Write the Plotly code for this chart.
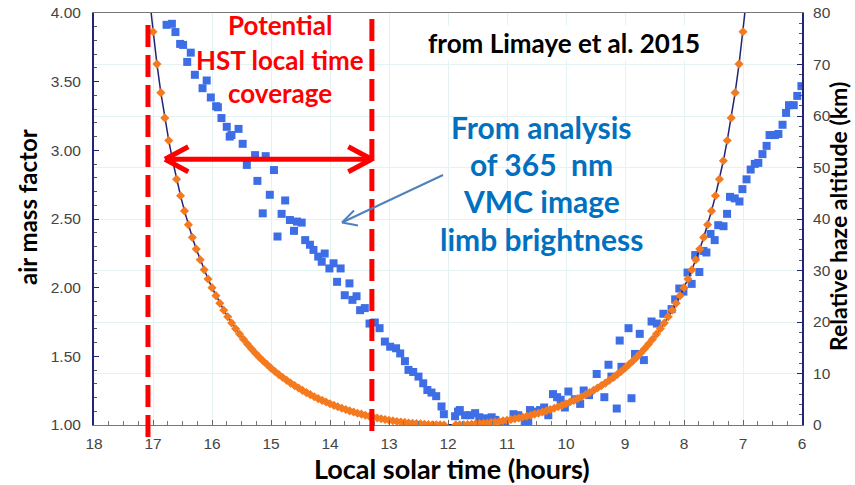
import plotly.graph_objects as go

# ---------------- data ----------------
# Air mass factor (orange diamonds, left axis) vs local solar time (hours)
airmass_time = [
    17.000, 16.933, 16.867, 16.800, 16.733, 16.667, 16.600, 16.533, 16.467, 16.400, 16.333, 16.267, 16.200, 16.133, 16.067,
    16.000, 15.933, 15.867, 15.800, 15.733, 15.667, 15.600, 15.533, 15.467, 15.400, 15.333, 15.267, 15.200, 15.133, 15.067,
    15.000, 14.933, 14.867, 14.800, 14.733, 14.667, 14.600, 14.533, 14.467, 14.400, 14.333, 14.267, 14.200, 14.133, 14.067,
    14.000, 13.933, 13.867, 13.800, 13.733, 13.667, 13.600, 13.533, 13.467, 13.400, 13.333, 13.267, 13.200, 13.133, 13.067,
    13.000, 12.933, 12.867, 12.800, 12.733, 12.667, 12.600, 12.533, 12.467, 12.400, 12.333, 12.267, 12.200, 12.133, 12.067,
    12.000, 11.933, 11.867, 11.800, 11.733, 11.667, 11.600, 11.533, 11.467, 11.400, 11.333, 11.267, 11.200, 11.133, 11.067,
    11.000, 10.933, 10.867, 10.800, 10.733, 10.667, 10.600, 10.533, 10.467, 10.400, 10.333, 10.267, 10.200, 10.133, 10.067,
    10.000, 9.933, 9.867, 9.800, 9.733, 9.667, 9.600, 9.533, 9.467, 9.400, 9.333, 9.267, 9.200, 9.133, 9.067,
    9.000, 8.933, 8.867, 8.800, 8.733, 8.667, 8.600, 8.533, 8.467, 8.400, 8.333, 8.267, 8.200, 8.133, 8.067,
    8.000, 7.933, 7.867, 7.800, 7.733, 7.667, 7.600, 7.533, 7.467, 7.400, 7.333, 7.267, 7.200, 7.133, 7.067,
    7.000,
]
airmass = [
    3.864, 3.628, 3.420, 3.236, 3.072, 2.924, 2.790, 2.669, 2.559, 2.459, 2.366, 2.281, 2.203, 2.130, 2.063,
    2.000, 1.942, 1.887, 1.836, 1.788, 1.743, 1.701, 1.662, 1.624, 1.589, 1.556, 1.524, 1.494, 1.466, 1.440,
    1.414, 1.390, 1.367, 1.346, 1.325, 1.305, 1.287, 1.269, 1.252, 1.236, 1.221, 1.206, 1.192, 1.179, 1.167,
    1.155, 1.143, 1.133, 1.122, 1.113, 1.103, 1.095, 1.086, 1.079, 1.071, 1.064, 1.058, 1.051, 1.046, 1.040,
    1.035, 1.031, 1.026, 1.022, 1.019, 1.015, 1.012, 1.010, 1.008, 1.006, 1.004, 1.002, 1.001, 1.001, 1.000,
    1.000, 1.000, 1.001, 1.001, 1.002, 1.004, 1.006, 1.008, 1.010, 1.012, 1.015, 1.019, 1.022, 1.026, 1.031,
    1.035, 1.040, 1.046, 1.051, 1.058, 1.064, 1.071, 1.079, 1.086, 1.095, 1.103, 1.113, 1.122, 1.133, 1.143,
    1.155, 1.167, 1.179, 1.192, 1.206, 1.221, 1.236, 1.252, 1.269, 1.287, 1.305, 1.325, 1.346, 1.367, 1.390,
    1.414, 1.440, 1.466, 1.494, 1.524, 1.556, 1.589, 1.624, 1.662, 1.701, 1.743, 1.788, 1.836, 1.887, 1.942,
    2.000, 2.063, 2.130, 2.203, 2.281, 2.366, 2.459, 2.559, 2.669, 2.790, 2.924, 3.072, 3.236, 3.420, 3.628,
    3.864,
]
# times where no orange diamond is drawn (gap near noon)
airmass_gap_times = [12.000, 11.933]
# end points of the dark model curve beyond the top of the chart
curve_edge_time = [17.067, 6.933]
curve_edge_airmass = [4.134, 4.134]

# Relative haze altitude (blue squares, right axis)
haze_time = [
    16.77, 16.68, 16.62, 16.54, 16.49, 16.42, 16.36, 16.29, 16.16, 16.09,
    16.02, 15.93, 15.90, 15.84, 15.75, 15.70, 15.67, 15.55, 15.48, 15.41,
    15.27, 15.23, 15.14, 15.09, 15.02, 14.95, 14.89, 14.82, 14.76, 14.68,
    14.61, 14.56, 14.48, 14.42, 14.34, 14.28, 14.20, 14.14, 14.09, 14.01,
    13.94, 13.88, 13.82, 13.75, 13.67, 13.62, 13.55, 13.49, 13.41, 13.33,
    13.24, 13.16, 13.07, 12.98, 12.88, 12.81, 12.73, 12.67, 12.59, 12.50,
    12.42, 12.35, 12.28, 12.20, 12.11, 12.07, 11.88, 11.83, 11.80, 11.71,
    11.62, 11.54, 11.47, 11.37, 11.26, 11.20, 11.09, 11.03, 10.89, 10.81,
    10.70, 10.64, 10.61, 10.53, 10.44, 10.37, 10.30, 10.22, 10.15, 10.09,
    10.02, 9.96, 9.85, 9.76, 9.70, 9.61, 9.48, 9.35, 9.28, 9.23,
    9.14, 9.06, 9.09, 8.94, 8.89, 8.83, 8.75, 8.68, 8.55, 8.46,
    8.35, 8.21, 8.15, 8.08, 8.01, 7.94, 7.87, 7.81, 7.74, 7.67,
    7.62, 7.55, 7.48, 7.42, 7.33, 7.27, 7.22, 7.14, 7.06, 7.01,
    6.94, 6.87, 6.80, 6.74, 6.67, 6.60, 6.55, 6.46, 6.40, 6.33,
    6.27, 6.22, 6.14, 6.08, 6.01,
]
haze_km = [
    77.7, 77.9, 76.3, 74.0, 73.8, 70.5, 72.3, 68.0, 65.4, 66.9,
    63.6, 61.9, 61.7, 59.6, 57.9, 56.0, 56.3, 57.5, 54.6, 50.5,
    52.4, 47.4, 41.1, 52.2, 44.7, 49.5, 36.6, 41.0, 43.6, 39.8,
    37.7, 39.5, 39.3, 35.9, 35.0, 34.0, 32.7, 31.7, 33.3, 30.4,
    31.4, 27.8, 30.4, 25.2, 27.5, 24.3, 25.0, 22.3, 22.7, 19.7,
    19.9, 18.8, 16.2, 15.2, 14.9, 13.9, 12.4, 10.7, 10.3, 9.4,
    8.1, 6.8, 6.3, 5.6, 3.6, 2.1, 1.7, 2.6, 2.9, 1.9,
    1.9, 2.3, 1.5, 1.3, 1.5, 1.0, 0.2, 0.4, 2.1, 1.9,
    0.4, 0.6, 2.9, 2.6, 2.9, 3.4, 1.9, 6.0, 5.4, 4.9,
    3.4, 6.5, 5.0, 4.1, 6.7, 5.8, 9.9, 5.4, 11.7, 9.4,
    3.2, 11.3, 16.4, 18.8, 5.2, 13.8, 17.7, 12.6, 20.1, 19.7,
    21.6, 22.5, 24.4, 26.5, 25.9, 29.6, 27.4, 33.0, 29.7, 33.8,
    33.5, 37.1, 35.9, 38.8, 38.6, 41.0, 44.3, 44.0, 43.4, 45.8,
    47.7, 49.6, 50.7, 50.9, 52.6, 54.2, 56.3, 56.3, 56.5, 58.3,
    60.6, 62.1, 62.1, 63.9, 65.8,
]

# HST coverage limits (hours)
hst_limits = [17.085, 13.29]

x_ticks = [18, 17, 16, 15, 14, 13, 12, 11, 10, 9, 8, 7, 6]

# ---------------- geometry helpers (page pixel -> paper / data) ----------------
W, H = 855, 485
PL, PR, PT, PB = 94, 802, 13, 425  # plot area in page pixels
PW, PH = PR - PL, PB - PT
ML, MT = PL, PT
MR, MB = W - PR, H - PB


def pxx(X):
    return (X - PL) / PW


def pxy(Y):
    return (PB - Y) / PH


def dx(X):  # page pixel -> hours
    return 18 - (X - PL) / PW * 12


def dy(Y):  # page pixel -> air mass
    return 1 + (PB - Y) / PH * 3


ORANGE = "#f47a20"
BLUE_SQ = "#3d6ee6"
NAVY = "#232378"
RED = "#ff0000"
TXT_BLUE = "#0070c0"
GRID = "#e3f3f3"
FONT = "Lato, Open Sans, sans-serif"

fig = go.Figure()

# blue squares (haze altitude, right axis, main y)
fig.add_trace(go.Scatter(
    x=haze_time, y=haze_km, mode="markers", yaxis="y",
    marker=dict(symbol="square", size=8, color=BLUE_SQ),
    showlegend=False, hoverinfo="skip",
))

# dark model curve (air mass)
curve_x = [curve_edge_time[0]] + airmass_time + [curve_edge_time[1]]
curve_y = [curve_edge_airmass[0]] + airmass + [curve_edge_airmass[1]]
fig.add_trace(go.Scatter(
    x=curve_x, y=curve_y, mode="lines", yaxis="y2",
    line=dict(color=NAVY, width=1.5),
    showlegend=False, hoverinfo="skip",
))

# orange diamonds
marker_y = [None if t in airmass_gap_times else v for t, v in zip(airmass_time, airmass)]
fig.add_trace(go.Scatter(
    x=airmass_time, y=marker_y, mode="markers", yaxis="y2",
    marker=dict(symbol="diamond", size=7, color=ORANGE),
    showlegend=False, hoverinfo="skip",
))

tickfont = dict(family="Liberation Sans, Arial", size=15.5, color="#444")

fig.update_layout(
    template="none",
    width=W, height=H,
    margin=dict(l=ML, r=MR, t=MT, b=MB, autoexpand=False),
    paper_bgcolor="white", plot_bgcolor="white",
    xaxis=dict(
        range=[18, 6], tickvals=x_ticks, ticks="inside", ticklen=5, tickcolor="#666",
        showline=True, linecolor="#777", linewidth=1, mirror=True,
        showgrid=True, gridcolor=GRID, gridwidth=1, zeroline=False, automargin=False,
        tickfont=tickfont, ticklabelstandoff=4, ticklabeloverflow="allow",
        minor=dict(dtick=0.25, ticks="inside", ticklen=4, tickcolor="#777", showgrid=False),
    ),
    yaxis=dict(
        side="right", range=[0, 80], dtick=10, ticks="inside", ticklen=5, tickcolor=NAVY,
        showline=True, linecolor=NAVY, linewidth=2, automargin=False,
        showgrid=True, gridcolor=GRID, zeroline=False,
        tickfont=tickfont, ticklabelstandoff=6, ticklabeloverflow="allow",
        minor=dict(dtick=2, ticks="inside", ticklen=3, tickcolor="#556", showgrid=False),
    ),
    yaxis2=dict(
        side="left", overlaying="y", range=[1, 4], dtick=0.5, tickformat=".2f",
        ticks="inside", ticklen=5, tickcolor=NAVY, automargin=False,
        showline=True, linecolor=NAVY, linewidth=2,
        showgrid=False, zeroline=False,
        tickfont=tickfont, ticklabelstandoff=8, ticklabeloverflow="allow",
        minor=dict(dtick=0.1, ticks="inside", ticklen=3, tickcolor="#556", showgrid=False),
    ),
)

shapes = []
# red dashed vertical lines (HST local time coverage limits)
for t, (ytop, ybot) in zip(hst_limits, [(20, 437), (15, 431)]):
    shapes.append(dict(type="line", xref="x", yref="paper", x0=t, x1=t,
                       y0=pxy(ybot), y1=pxy(ytop),
                       line=dict(color=RED, width=5, dash="22px,8px")))

# red double arrow
ya, yw1, yw2 = dy(159.3), dy(146.7), dy(171.7)
xl, xr = dx(165), dx(371.7)
xlw, xrw = dx(188.3), dx(348.3)
shapes.append(dict(type="line", xref="x", yref="y2", x0=xl, x1=xr, y0=ya, y1=ya,
                   line=dict(color=RED, width=5)))
for x_tip, x_w in [(xl, xlw), (xr, xrw)]:
    for y_w in (yw1, yw2):
        shapes.append(dict(type="line", xref="x", yref="y2", x0=x_tip, x1=x_w, y0=ya, y1=y_w,
                           line=dict(color=RED, width=5)))

# thin blue pointer arrow
ARW = "#4f81bd"
shapes.append(dict(type="line", xref="x", yref="y2", x0=dx(443), y0=dy(175), x1=dx(342), y1=dy(222.5),
                   line=dict(color=ARW, width=2)))
shapes.append(dict(type="line", xref="x", yref="y2", x0=dx(342), y0=dy(222.5), x1=dx(354), y1=dy(210.5),
                   line=dict(color=ARW, width=2)))
shapes.append(dict(type="line", xref="x", yref="y2", x0=dx(342), y0=dy(222.5), x1=dx(358), y1=dy(225.5),
                   line=dict(color=ARW, width=2)))

fig.update_layout(shapes=shapes)


def text_ann(txt, X, Y, size, color, angle=0, bg=None):
    d = dict(text=f"<b>{txt}</b>", x=pxx(X), y=pxy(Y), xref="paper", yref="paper",
             xanchor="center", yanchor="middle", textangle=angle, showarrow=False,
             font=dict(family=FONT, size=size, color=color))
    if bg:
        d["bgcolor"] = bg
    return d


ann = []
# axis titles
ann.append(text_ann("air mass factor", 27, 207, 24, "black", angle=-90))
ann.append(text_ann("Local solar time (hours)", 452, 468, 27, "black"))
ann.append(text_ann("Relative haze altitude (km)", 838, 217, 23, "black", angle=-90))
# red coverage text
for txt, yy in [("Potential", 25), ("HST local time", 60), ("coverage", 93)]:
    ann.append(text_ann(txt, 280, yy, 26, RED))
# source text
ann.append(text_ann("from Limaye et al. 2015", 564, 43, 26, "black", bg="white"))
# blue explanation text
for txt, yy in [("From analysis", 127), ("of 365&nbsp; nm", 164), ("VMC image", 201), ("limb brightness", 239)]:
    ann.append(text_ann(txt, 541, yy, 30, TXT_BLUE))
fig.update_layout(annotations=ann)

# remove the default page margin so the figure fills the window exactly
fig.write_html("out.html", config={"displayModeBar": False},
               post_script="document.body.style.margin='0';document.body.style.overflow='hidden';")
